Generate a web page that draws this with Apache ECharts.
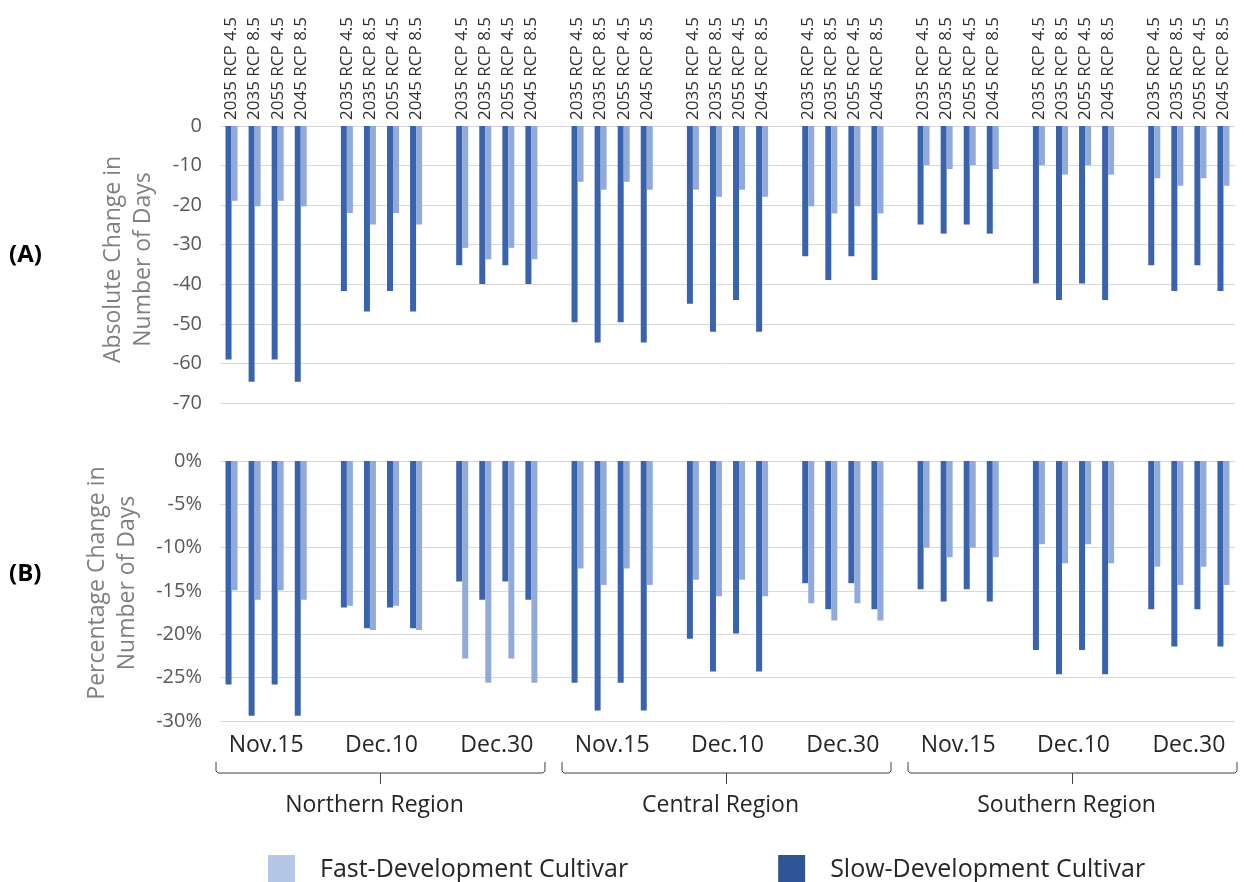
<!DOCTYPE html>
<html><head><meta charset="utf-8">
<script src="https://cdn.jsdelivr.net/npm/echarts@6/dist/echarts.min.js"></script>
<style>html,body{margin:0;padding:0;background:#fff}#c{width:1244px;height:882px}</style>
</head><body><div id="c"></div>
<script>
const regions = ['Northern Region', 'Central Region', 'Southern Region'];
const dates = ['Nov.15', 'Dec.10', 'Dec.30'];
const scenarios = ['2035 RCP 4.5', '2035 RCP 8.5', '2055 RCP 4.5', '2045 RCP 8.5'];
const yTicksA = [0, -10, -20, -30, -40, -50, -60, -70];
const yTicksB = [0, -5, -10, -15, -20, -25, -30];

// order: region -> date -> scenario
const absSlow = [
  -59.0, -64.6, -59.0, -64.6,  -41.7, -46.9, -41.7, -46.9,  -35.2, -39.9, -35.2, -39.9,
  -49.6, -54.7, -49.6, -54.7,  -44.9, -52.0, -44.0, -52.0,  -32.9, -38.9, -32.9, -38.9,
  -24.9, -27.2, -24.9, -27.2,  -39.8, -44.0, -39.8, -44.0,  -35.2, -41.7, -35.2, -41.7
];
const absFast = [
  -18.9, -20.3, -18.9, -20.3,  -22.0, -24.9, -22.0, -24.9,  -30.8, -33.7, -30.8, -33.7,
  -14.1, -16.1, -14.1, -16.1,  -16.1, -17.9, -16.1, -17.9,  -20.3, -22.1, -20.3, -22.1,
  -9.9, -10.9, -9.9, -10.9,    -9.9, -12.3, -9.9, -12.3,    -13.2, -15.1, -13.2, -15.1
];
const pctSlow = [
  -25.8, -29.4, -25.8, -29.4,  -16.9, -19.3, -16.9, -19.3,  -13.9, -16.0, -13.9, -16.0,
  -25.6, -28.8, -25.6, -28.8,  -20.5, -24.3, -19.9, -24.3,  -14.1, -17.1, -14.1, -17.1,
  -14.8, -16.2, -14.8, -16.2,  -21.8, -24.6, -21.8, -24.6,  -17.1, -21.4, -17.1, -21.4
];
const pctFast = [
  -14.9, -16.0, -14.9, -16.0,  -16.7, -19.5, -16.7, -19.5,  -22.8, -25.6, -22.8, -25.6,
  -12.4, -14.3, -12.4, -14.3,  -13.7, -15.6, -13.7, -15.6,  -16.4, -18.4, -16.4, -18.4,
  -10.0, -11.1, -10.0, -11.1,  -9.6, -11.8, -9.6, -11.8,    -12.2, -14.3, -12.2, -14.3
];

// build slots with a blank slot between date groups
const slotLabels = [], sAbsSlow = [], sAbsFast = [], sPctSlow = [], sPctFast = [];
const groupSlots = []; // [first,last] slot index per date group
let k = 0;
for (let r = 0; r < regions.length; r++) {
  for (let d = 0; d < dates.length; d++) {
    const first = slotLabels.length;
    for (let s = 0; s < scenarios.length; s++) {
      slotLabels.push(scenarios[s]);
      sAbsSlow.push(absSlow[k]); sAbsFast.push(absFast[k]);
      sPctSlow.push(pctSlow[k]); sPctFast.push(pctFast[k]);
      k++;
    }
    groupSlots.push([first, slotLabels.length - 1, r, d]);
    if (!(r === regions.length - 1 && d === dates.length - 1)) {
      slotLabels.push(''); sAbsSlow.push(null); sAbsFast.push(null); sPctSlow.push(null); sPctFast.push(null);
    }
  }
}

const DARK = '#3A63AD', LIGHT = '#91AADA';
const FONT = 'Open Sans';
const chart = echarts.init(document.getElementById('c'), null, {renderer: 'canvas'});

const gridL = 220, gridR = 9;
const option = {
  animation: false,
  backgroundColor: '#fff',
  textStyle: {fontFamily: FONT},
  grid: [
    {left: gridL, right: gridR, top: 126, height: 277},
    {left: gridL, right: gridR, top: 461, height: 260}
  ],
  xAxis: [
    {gridIndex: 0, type: 'category', position: 'top', data: slotLabels,
     axisLine: {show: false}, axisTick: {show: false},
     axisLabel: {interval: 0, rotate: 90, margin: 6, fontSize: 17, color: '#303030', fontFamily: FONT}},
    {gridIndex: 1, type: 'category', position: 'bottom', data: slotLabels,
     axisLine: {show: false}, axisTick: {show: false}, axisLabel: {show: false}}
  ],
  yAxis: [
    {gridIndex: 0, type: 'value', min: yTicksA[yTicksA.length - 1], max: yTicksA[0], interval: 10,
     axisLine: {show: false}, axisTick: {show: false},
     splitLine: {lineStyle: {color: '#D9D9D9', width: 1}},
     axisLabel: {margin: 18, fontSize: 20, color: '#595959', fontFamily: FONT},
     name: 'Absolute Change in\nNumber of Days', nameLocation: 'middle', nameRotate: 90, nameGap: 62,
     nameTextStyle: {fontSize: 23, color: '#7F7F7F', lineHeight: 30, fontFamily: FONT, padding: [0, 0, 0, 10]}},
    {gridIndex: 1, type: 'value', min: yTicksB[yTicksB.length - 1], max: yTicksB[0], interval: 5,
     axisLine: {show: false}, axisTick: {show: false},
     splitLine: {lineStyle: {color: '#D9D9D9', width: 1}},
     axisLabel: {margin: 18, fontSize: 20, color: '#595959', fontFamily: FONT, formatter: '{value}%'},
     name: 'Percentage Change in\nNumber of Days', nameLocation: 'middle', nameRotate: 90, nameGap: 78,
     nameTextStyle: {fontSize: 23, color: '#7F7F7F', lineHeight: 30, fontFamily: FONT, padding: [0, 0, 0, 16]}}
  ],
  legend: {
    left: 263, top: 850, itemWidth: 27, itemHeight: 30, itemGap: 150, icon: 'rect',
    textStyle: {fontSize: 25, color: '#262626', fontFamily: FONT, padding: [0, 0, 0, 20]},
    data: [
      {name: 'Fast-Development Cultivar', itemStyle: {color: '#B4C7E7'}},
      {name: 'Slow-Development Cultivar', itemStyle: {color: '#2F5597'}}
    ]
  },
  series: [
    {name: 'Slow-Development Cultivar', type: 'bar', xAxisIndex: 0, yAxisIndex: 0, data: sAbsSlow,
     barWidth: 6, barGap: '0%', itemStyle: {color: DARK}},
    {name: 'Fast-Development Cultivar', type: 'bar', xAxisIndex: 0, yAxisIndex: 0, data: sAbsFast,
     barWidth: 6, barGap: '0%', itemStyle: {color: LIGHT}},
    {name: 'Slow-Development Cultivar', type: 'bar', xAxisIndex: 1, yAxisIndex: 1, data: sPctSlow,
     barWidth: 6, barGap: '0%', itemStyle: {color: DARK}},
    {name: 'Fast-Development Cultivar', type: 'bar', xAxisIndex: 1, yAxisIndex: 1, data: sPctFast,
     barWidth: 6, barGap: '0%', itemStyle: {color: LIGHT}}
  ]
};
chart.setOption(option);

// annotations: panel letters, date labels, brackets, region names
const px = i => chart.convertToPixel({xAxisIndex: 1}, i);
const bw = px(1) - px(0);
const graphics = [
  {type: 'text', left: 9, top: 243, style: {text: '(A)', font: 'bold 24px ' + FONT, fill: '#000'}},
  {type: 'text', left: 9, top: 562, style: {text: '(B)', font: 'bold 24px ' + FONT, fill: '#000'}}
];
groupSlots.forEach(([a, b, r, d]) => {
  const cx = (px(a) + px(b)) / 2;
  graphics.push({type: 'text', x: cx, y: 745, style: {text: dates[d], font: '23px ' + FONT, fill: '#262626', align: 'center', verticalAlign: 'middle'}});
});
for (let r = 0; r < regions.length; r++) {
  const first = r * 15, last = r * 15 + 13;
  const x0 = px(first) - bw / 2 - 4, x1 = px(last) + bw / 2 + 2;
  const cx = (x0 + x1) / 2;
  const yTop = 762, yH = 773, yTick = 784;
  graphics.push({type: 'polyline', shape: {points: [[x0, yTop], [x0, yH - 2], [x0 + 2, yH], [x1 - 2, yH], [x1, yH - 2], [x1, yTop]]},
    style: {stroke: '#404040', lineWidth: 1, fill: null}});
  graphics.push({type: 'line', shape: {x1: cx, y1: yH, x2: cx, y2: yTick}, style: {stroke: '#404040', lineWidth: 1}});
  graphics.push({type: 'text', x: cx - 6, y: 805, style: {text: regions[r], font: '23px ' + FONT, fill: '#262626', align: 'center', verticalAlign: 'middle'}});
}
chart.setOption({graphic: graphics});
</script></body></html>
